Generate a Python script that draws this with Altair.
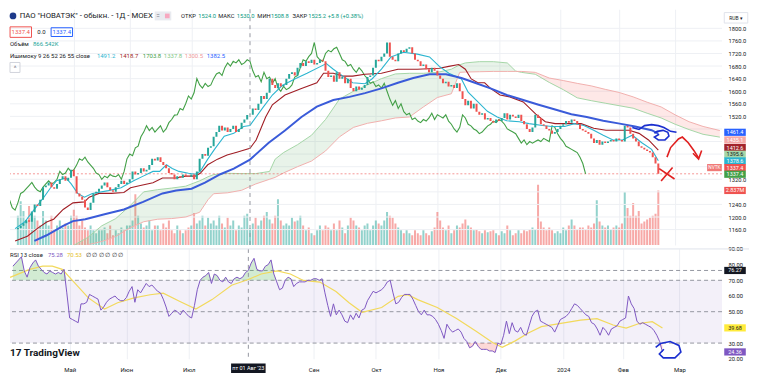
import altair as alt
import numpy as np
import pandas as pd

FONT = "Roboto"
INK = "#131722"
UP = "#26a69a"
DOWN = "#ef5350"

# ---------------- data ----------------
first_open = 1160.0
closes = [
    1165, 1172, 1180, 1190, 1185, 1215, 1240, 1235, 1255, 1295,
    1300, 1310, 1295, 1290, 1305, 1320, 1330, 1315, 1325, 1350,
    1330, 1275, 1265, 1255, 1230, 1222, 1245, 1275, 1280, 1290,
    1300, 1310, 1295, 1285, 1280, 1295, 1305, 1315, 1305, 1310,
    1320, 1345, 1335, 1340, 1355, 1345, 1350, 1365, 1385, 1380,
    1390, 1375, 1365, 1355, 1340, 1335, 1320, 1330, 1325, 1335,
    1330, 1328, 1335, 1320, 1345, 1385, 1400, 1395, 1420, 1425,
    1455, 1470, 1490, 1475, 1485, 1470, 1480, 1490, 1470, 1480,
    1500, 1510, 1524, 1525.2, 1545, 1540, 1560, 1585, 1575, 1595,
    1640, 1620, 1610, 1625, 1615, 1620, 1640, 1655, 1660, 1650,
    1675, 1690, 1680, 1695, 1690, 1700, 1685, 1690, 1700, 1695,
    1665, 1645, 1650, 1630, 1660, 1640, 1645, 1625, 1640, 1610,
    1600, 1615, 1605, 1610, 1620, 1645, 1650, 1675, 1700, 1695,
    1710, 1720, 1755, 1710, 1700, 1695, 1720, 1730, 1725, 1735,
    1740, 1720, 1700, 1695, 1680, 1685, 1670, 1660, 1675, 1665,
    1650, 1640, 1625, 1630, 1615, 1620, 1610, 1625, 1600, 1575,
    1555, 1570, 1545, 1560, 1535, 1525, 1530, 1510, 1515, 1505,
    1500, 1510, 1505, 1515, 1530, 1510, 1525, 1520, 1515, 1525,
    1505, 1495, 1480, 1470, 1485, 1525, 1515, 1495, 1490, 1480,
    1475, 1465, 1470, 1480, 1490, 1495, 1505, 1500, 1510, 1505,
    1495, 1480, 1475, 1470, 1465, 1450, 1435, 1445, 1430, 1440,
    1435, 1440, 1445, 1440, 1450, 1445, 1440, 1490, 1485, 1465,
    1450, 1440, 1425, 1420, 1415, 1410, 1405, 1390, 1370, 1337.4,
]
volumes_m = [
    1.52, 2.28, 1.77, 1.27, 2.03, 1.77, 1.52, 1.27, 1.01, 1.77,
    1.27, 1.01, 1.52, 0.76, 1.01, 1.27, 0.91, 1.12, 1.01, 1.52,
    1.83, 1.52, 1.01, 1.27, 0.91, 0.76, 1.01, 0.76, 0.61, 0.76,
    0.76, 0.91, 0.61, 1.01, 0.51, 0.76, 0.61, 0.91, 0.76, 1.01,
    1.01, 1.27, 2.64, 1.52, 1.12, 0.91, 1.01, 1.27, 0.76, 1.01,
    1.01, 0.76, 1.12, 0.91, 1.27, 0.76, 0.61, 1.01, 0.76, 0.61,
    0.76, 0.91, 1.01, 1.67, 1.12, 1.27, 1.52, 1.01, 1.42, 1.12,
    1.27, 1.01, 1.52, 1.12, 0.91, 1.42, 1.01, 1.27, 0.76, 1.01,
    0.91, 1.52, 1.62, 0.87, 1.12, 1.42, 1.01, 1.27, 1.52, 1.72,
    1.32, 1.12, 1.52, 2.38, 1.27, 1.01, 1.12, 1.01, 1.42, 1.22,
    1.27, 1.52, 1.01, 0.76, 0.91, 0.61, 0.51, 0.76, 1.01, 0.76,
    1.01, 0.91, 0.76, 1.12, 0.76, 1.27, 0.91, 0.61, 1.01, 1.42,
    1.27, 1.01, 0.91, 0.76, 1.01, 1.12, 0.76, 1.01, 1.27, 1.12,
    1.01, 1.27, 1.72, 1.52, 1.42, 1.12, 0.91, 0.76, 0.61, 0.76,
    0.61, 0.51, 0.76, 0.61, 0.51, 0.76, 0.61, 0.51, 0.71, 0.91,
    1.72, 1.27, 0.91, 0.76, 1.01, 0.61, 0.76, 1.01, 0.91, 1.12,
    1.32, 1.01, 0.91, 0.76, 0.81, 0.71, 0.61, 0.76, 0.66, 0.71,
    0.76, 0.61, 0.51, 0.71, 0.61, 1.01, 0.76, 0.51, 0.61, 0.76,
    0.61, 0.76, 0.71, 0.81, 0.91, 0.81, 3.14, 1.22, 0.91, 0.76,
    0.91, 0.76, 0.61, 0.71, 0.61, 0.91, 0.76, 1.01, 1.32, 1.01,
    0.81, 0.91, 0.91, 0.81, 1.01, 0.91, 1.12, 2.33, 1.22, 1.01,
    0.91, 1.01, 0.81, 0.91, 1.01, 0.91, 1.12, 2.74, 1.93, 1.52,
    2.18, 1.52, 1.77, 1.12, 1.22, 1.32, 1.42, 1.52, 1.62, 2.837,
]
rsi_values = [
    79, 81, 83, 85, 76, 72, 78, 81, 83, 79,
    77, 75, 74, 76, 75, 74, 75, 74, 77, 62,
    46, 45, 44, 43, 55, 55, 56, 61, 60, 59,
    58, 51, 53, 56, 58, 59, 60, 58, 57, 57,
    59, 63, 66, 56, 64, 62, 65, 68, 66, 67,
    65, 63, 62, 58, 53, 47, 49, 51, 50, 48,
    51, 49, 47, 46, 54, 64, 70, 72, 73, 75,
    68, 74, 73, 70, 69, 72, 69, 68, 71, 72,
    71, 72, 75, 76.3, 81, 84, 77, 76, 76, 79,
    80, 83, 74, 69, 64, 65, 70, 72, 71, 66,
    68, 69, 69, 69, 70, 70, 71, 71, 70, 71,
    62, 54, 47, 55, 48, 51, 48, 44, 43, 48,
    45, 49, 46, 51, 52, 57, 60, 63, 62, 63,
    64, 66, 69, 70, 62, 55, 56, 59, 61, 61,
    61, 58, 54, 50, 48, 51, 48, 48, 47, 45,
    42, 38, 33, 42, 39, 37, 38, 39, 37, 33,
    31, 27, 28, 31, 28, 26, 26, 26, 25, 25,
    24, 30, 29, 35, 44, 36, 43, 38, 37, 40,
    36, 35, 41, 47, 50, 51, 44, 43, 42, 41,
    40, 37, 41, 45, 46, 47, 49, 52, 55, 54,
    52, 50, 48, 47, 43, 42, 39, 35, 40, 38,
    35, 39, 40, 41, 44, 45, 46, 60, 55, 52,
    44, 42, 43, 42, 41, 40, 38, 35, 31, 24.36,
]
conversion_line = [
    (-1, 1163), (2.4, 1184), (5.9, 1224), (9.3, 1263), (11.7, 1293), (13.8, 1315),
    (17.2, 1324), (19, 1306), (21.4, 1275), (23.8, 1263), (26.6, 1275), (32.4, 1284),
    (36.9, 1293), (41.4, 1315), (44.8, 1330), (48.3, 1345), (50.7, 1345), (53.1, 1366),
    (55.2, 1354), (57.6, 1345), (61, 1339), (63.4, 1336), (65.2, 1345), (67.9, 1384),
    (70.3, 1415), (73.8, 1457), (77.2, 1466), (80.7, 1488), (83, 1491.2), (87.6, 1548),
    (91, 1588), (94.5, 1618), (99, 1639), (103.4, 1657), (108.3, 1679), (110.3, 1688),
    (112.8, 1670), (116.2, 1648), (119.7, 1627), (124.1, 1624), (126.6, 1639), (130, 1670),
    (133.4, 1709), (137.9, 1724), (142.8, 1718), (147.2, 1709), (150.7, 1679), (154.1, 1657),
    (158.6, 1639), (161, 1597), (164.5, 1566), (167.9, 1536), (171.4, 1518), (174.8, 1506),
    (179.3, 1503), (182.8, 1497), (187.6, 1491), (191, 1488), (195.5, 1488), (199, 1497),
    (202.4, 1491), (205.9, 1476), (209.3, 1460), (212.8, 1445), (216.2, 1445), (219.7, 1460),
    (223.1, 1436), (226.6, 1415), (229, 1378.6),
]
base_line = [
    (-1, 1124), (3.4, 1139), (6.9, 1163), (10.3, 1184), (12.8, 1193), (16.2, 1224),
    (19.7, 1245), (23.8, 1248), (25.5, 1263), (29, 1275), (33.4, 1275), (37.9, 1278),
    (40.3, 1293), (43.8, 1300), (48.3, 1309), (51.7, 1324), (56.6, 1324), (60, 1330),
    (63.4, 1330), (65.2, 1339), (67.9, 1366), (71.4, 1384), (74.8, 1397), (78.3, 1406),
    (83, 1418.7), (85.2, 1445), (88.6, 1518), (91, 1557), (95.5, 1588), (101.4, 1609),
    (106.9, 1627), (109.3, 1657), (112.8, 1657), (116.2, 1648), (119.7, 1648), (124.1, 1654),
    (130, 1657), (135.9, 1670), (142.8, 1670), (150.7, 1673), (154.1, 1679), (157.6, 1685),
    (160, 1670), (162.1, 1639), (164.5, 1627), (166.9, 1627), (169, 1609), (172.4, 1588),
    (175.9, 1582), (180.7, 1566), (185.2, 1527), (188.6, 1503), (192.1, 1497), (197.9, 1497),
    (201.4, 1497), (205.9, 1482), (210.3, 1476), (215.2, 1476), (218.6, 1476), (222.1, 1466),
    (225.5, 1445), (229, 1412.6),
]
ma55_line = [
    (5.9, 1124), (10.3, 1142), (16.2, 1172), (19.7, 1187), (24.1, 1193), (31, 1209),
    (37.9, 1224), (44.8, 1248), (51.7, 1275), (56.6, 1284), (62.1, 1290), (66.9, 1309),
    (72.4, 1336), (77.2, 1354), (83, 1382.5), (89.7, 1436), (95.5, 1475), (101.4, 1518),
    (106.9, 1551), (112.8, 1572), (118.6, 1582), (124.1, 1594), (130, 1609), (135.9, 1627),
    (141.4, 1642), (147.2, 1654), (153.1, 1654), (158.6, 1642), (163.4, 1627), (169, 1609),
    (174.8, 1588), (180.7, 1572), (186.2, 1557), (192.1, 1542), (197.9, 1527), (203.4, 1518),
    (209.3, 1506), (215.2, 1497), (220.7, 1488), (226.6, 1476), (229, 1465),
]
cloud_index = [20, 25, 30, 35, 40, 45, 50, 55, 60, 65, 68, 70, 75, 80, 85, 90, 92, 95, 100, 105,
               110, 115, 120, 125, 130, 135, 140, 145, 150, 155, 158, 160, 165, 170, 175, 178,
               180, 185, 190, 195, 200, 205, 210, 215, 220, 225, 230, 235, 240, 245, 251]
span_a = [1110, 1135, 1172, 1195, 1235, 1280, 1287, 1292, 1298, 1315, 1328, 1335, 1339, 1338,
          1338, 1345, 1384, 1405, 1430, 1460, 1510, 1575, 1600, 1620, 1640, 1655, 1657, 1657,
          1660, 1670, 1684, 1690, 1694, 1694, 1690, 1664, 1660, 1654, 1628, 1605, 1579, 1570,
          1562, 1554, 1546, 1530, 1515, 1495, 1478, 1463, 1454]
span_b = [1095, 1112, 1122, 1138, 1165, 1185, 1193, 1195, 1200, 1215, 1255, 1274, 1277, 1285,
          1305, 1320, 1326, 1340, 1360, 1378, 1410, 1455, 1485, 1498, 1506, 1515, 1518, 1550,
          1580, 1592, 1660, 1661, 1662, 1663, 1663, 1663, 1663, 1660, 1642, 1634, 1625, 1617,
          1606, 1596, 1582, 1565, 1550, 1525, 1503, 1488, 1475]
rsi_ma_line = [
    (-1, 71.9), (5.9, 77.0), (10.5, 79.0), (13.9, 79.0), (17.4, 77.0), (22, 67.9), (26.6, 58.8),
    (32.3, 51.7), (36.9, 55.7), (42.7, 58.8), (48.4, 60.8), (53, 61.8), (58.7, 56.7), (64.5, 51.7),
    (70.2, 57.7), (77.1, 66.9), (83, 70.53), (87.5, 74.0), (93.2, 76.0), (97.8, 74.0), (102.4, 69.9),
    (108.2, 68.9), (113.9, 62.8), (118.5, 55.7), (123.1, 49.6), (130, 52.7), (135.8, 59.8),
    (139.2, 60.8), (142.7, 57.7), (149.6, 52.7), (156.4, 45.6), (163.3, 37.5), (169.1, 30.4),
    (172.5, 27.3), (177.1, 31.4), (181.7, 36.4), (186.3, 40.5), (193.2, 42.5), (200.1, 44.6),
    (205.9, 45.6), (211.6, 41.5), (216.2, 39.5), (220.8, 42.5), (225.4, 43.6), (229, 39.68),
]
month_ticks = [20, 40, 62, 106, 128, 150, 172, 194, 215, 235]
month_labels = ["Май", "Июн", "Июл", "Сен", "Окт", "Ноя", "Дек", "2024", "Фев", "Мар"]
price_ticks = [1160, 1200, 1240, 1320, 1520, 1560, 1600, 1640, 1680, 1720, 1760, 1800]
grid_ticks = list(range(1160, 1801, 40))
rsi_ticks = [20, 30, 50, 60, 70, 80, 90]
crosshair_bar = 83
crosshair_rsi = 76.27
# right-edge value tags: text, position (price), background, text colour
price_tags = [
    ("1461.4", 1469.4, "#2962ff", "white"),
    ("1435.1", 1445.1, "#f4a9a8", "white"),
    ("1412.6", 1420.9, "#a3232b", "white"),
    ("1395.6", 1399.6, "#a5d6a7", INK),
    ("1378.6", 1378.4, "#2cb5d0", "white"),
    ("1337.4", 1357.2, "#ef5350", "white"),
    ("1337.4", 1336.0, "#43a047", "white"),
    ("2.837M", 1284.4, "#ef5350", "white"),
]
rsi_tags = [
    ("76.27", 76.27, INK, "white"),
    ("39.68", 39.68, "#ffeb3b", INK),
    ("24.36", 24.36, "#7e57c2", "white"),
]
# hand-drawn marks (bar index, price) / (bar index, RSI)
blue_squiggle = [(219.7, 1484.6), (222.1, 1478.5), (224.1, 1490.6), (226.6, 1493.7),
                 (229, 1490.6), (231, 1484.6), (233.4, 1472.4), (235.5, 1469.4)]
blue_loop = [(227.6, 1466.4), (228.6, 1472.4), (230.7, 1475.5), (232.4, 1469.4), (232.8, 1457.3),
             (231.4, 1445.1), (229.0, 1445.1), (227.6, 1454.2), (229.3, 1463.3)]
red_arrow = [(232.1, 1390.5), (233.4, 1420.8), (236.2, 1448.2), (237.6, 1454.2),
             (239.7, 1436), (241.7, 1411.8), (243.4, 1387.5)]
red_arrow_head = [(241.4, 1402.7), (243.4, 1384.5), (244.5, 1411.8)]
red_cross_1 = [(229.3, 1354.1), (234.8, 1320.8)]
red_cross_2 = [(230.0, 1314.7), (234.1, 1357.2)]
rsi_loop = [(226.6, 27.3), (228.3, 29.7), (231.7, 31.0), (234.8, 28.5), (235.5, 24.3),
            (233.4, 20.6), (229.3, 20.6), (227.9, 23.05), (229.5, 26.1)]

# ---------------- layout ----------------
W, H1, H2 = 713, 236, 110
TAG_X = 726
xs = alt.Scale(domain=[-1.03, 250.0], nice=False, zero=False)
ys = alt.Scale(domain=[1111.2, 1860.7], nice=False, zero=False)
vs = alt.Scale(domain=[0, 12.28], nice=False, zero=True)
rs = alt.Scale(domain=[20, 90], nice=False, zero=False)
GRID = "#eef0f4"
AX_FS = 5.8

lab_expr = ("[" + ",".join(f"'{m}'" for m in month_labels) + "][indexof(["
            + ",".join(str(t) for t in month_ticks) + "], datum.value)]")
ax_xm = alt.Axis(values=month_ticks, labels=False, ticks=False, domain=False, grid=True,
                 gridColor=GRID, title=None)
ax_xr = alt.Axis(values=month_ticks, labelExpr=lab_expr, labelFont=FONT, labelFontSize=6,
                 labelColor=INK, labelPadding=8, labelBaseline="top", labelOverlap=False,
                 labelFlush=False, ticks=False, domain=False, grid=True, gridColor=GRID, title=None)
ax_y = alt.Axis(orient="right", values=price_ticks, format=".1f", labelFont=FONT, labelFontSize=AX_FS,
                labelColor=INK, labelPadding=6, ticks=False, domain=False, grid=False,
                title=None, labelOverlap=False, labelFlush=False)
ax_r = alt.Axis(orient="right", values=rsi_ticks, format=".2f", labelFont=FONT, labelFontSize=AX_FS,
                labelColor=INK, labelPadding=6, ticks=False, domain=False, grid=False,
                title=None, labelOverlap=False, labelFlush=False)

cscale = alt.Scale(domain=["up", "down"], range=[UP, DOWN])
ONE = pd.DataFrame({"k": [0]})


def xq(field="i", axis=ax_xm):
    return alt.X(f"{field}:Q", scale=xs, axis=axis)


def yp(field):
    return alt.Y(f"{field}:Q", scale=ys, axis=ax_y)


def yr(field):
    return alt.Y(f"{field}:Q", scale=rs, axis=ax_r)


def pairs(lst, col):
    d = pd.DataFrame(lst, columns=["i", col])
    d["k"] = range(len(d))
    return d


def txt(t, x, y, color=INK, size=6, align="left", weight="normal"):
    return alt.Chart(ONE).mark_text(align=align, baseline="middle", fontSize=size, fontWeight=weight,
                                    font=FONT, color=color).encode(
        x=alt.value(x), y=alt.value(y), text=alt.value(t))


def box(x, y, shape, size, fill=None, stroke=None):
    if fill:
        m = alt.Chart(ONE).mark_point(shape=shape, size=size, filled=True, color=fill, opacity=1,
                                      strokeWidth=0)
    else:
        m = alt.Chart(ONE).mark_point(shape=shape, size=size, filled=False, color=stroke, opacity=1,
                                      strokeWidth=1)
    return m.encode(x=alt.value(x), y=alt.value(y))


TAG = "M-1.5,-0.5H1.5V0.5H-1.5Z"

n = len(closes)
bars = pd.DataFrame({"i": np.arange(n), "open": [first_open] + closes[:-1], "close": closes,
                     "vol": volumes_m, "rsi": rsi_values})
bars["dir"] = np.where(bars["close"] >= bars["open"], "up", "down")
bars["lag_i"] = bars["i"] - 26

cloud = pd.DataFrame({"i": cloud_index, "a": span_a, "b": span_b})
cloud_green = cloud[cloud["i"] <= 178]
cloud_red = cloud[cloud["i"] >= 178]

# ---------------- main pane ----------------
vol = alt.Chart(bars).mark_bar(size=2, opacity=0.5, clip=True).encode(
    x=xq(), y=alt.Y("vol:Q", scale=vs, axis=None),
    color=alt.Color("dir:N", scale=cscale, legend=None))

layers = [
    alt.Chart(pd.DataFrame({"g": grid_ticks})).mark_rule(color=GRID, strokeWidth=1).encode(y=yp("g")),
    alt.Chart(cloud_green).mark_area(color="#43a047", opacity=0.12, clip=True).encode(
        x=xq(), y=yp("a"), y2="b:Q"),
    alt.Chart(cloud_red).mark_area(color="#f44336", opacity=0.12, clip=True).encode(
        x=xq(), y=yp("a"), y2="b:Q"),
    alt.Chart(cloud).mark_line(color="#a5d6a7", strokeWidth=1, clip=True).encode(x=xq(), y=yp("a")),
    alt.Chart(cloud).mark_line(color="#f1b0ae", strokeWidth=1, clip=True).encode(x=xq(), y=yp("b")),
    alt.Chart(pd.DataFrame({"p": [closes[-1]]})).mark_rule(
        color=DOWN, strokeDash=[2, 2], opacity=0.6).encode(y=yp("p")),
    alt.Chart(bars).mark_line(color="#43a047", strokeWidth=1.1, clip=True).encode(
        x=xq("lag_i"), y=yp("close")),
    alt.Chart(pairs(base_line, "p")).mark_line(color="#a01e25", strokeWidth=1.1, clip=True).encode(
        x=xq(), y=yp("p"), order="k:Q"),
    alt.Chart(pairs(conversion_line, "p")).mark_line(color="#2cb5d0", strokeWidth=1.1, clip=True).encode(
        x=xq(), y=yp("p"), order="k:Q"),
    alt.Chart(pairs(ma55_line, "p")).mark_line(color="#3a5bd9", strokeWidth=2, clip=True).encode(
        x=xq(), y=yp("p"), order="k:Q"),
    alt.Chart(bars).mark_bar(size=2, clip=True).encode(
        x=xq(), y=yp("open"), y2="close:Q",
        color=alt.Color("dir:N", scale=cscale, legend=None)),
    alt.Chart(pd.DataFrame({"i": [crosshair_bar]})).mark_rule(
        color="#9598a1", strokeDash=[4, 4], strokeWidth=1).encode(x=xq()),
]
for pts, colr in [(blue_squiggle, "#1b2fcf"), (blue_loop, "#1b2fcf"), (red_arrow, "#e02020"),
                  (red_arrow_head, "#e02020"), (red_cross_1, "#e02020"), (red_cross_2, "#e02020")]:
    layers.append(alt.Chart(pairs(pts, "p")).mark_line(color=colr, strokeWidth=1.6).encode(
        x=xq(), y=yp("p"), order="k:Q"))
for t, pos, bg, fg in price_tags:
    d = pd.DataFrame({"pos": [pos]})
    layers.append(alt.Chart(d).mark_point(shape=TAG, size=207, filled=True, color=bg, opacity=1,
                                          strokeWidth=0).encode(x=alt.value(TAG_X), y=yp("pos")))
    layers.append(alt.Chart(d).mark_text(font=FONT, fontSize=5.5, color=fg, align="center",
                                         baseline="middle").encode(
        x=alt.value(TAG_X), y=yp("pos"), text=alt.value(t)))
nv = pd.DataFrame({"pos": [1357.2]})
layers.append(alt.Chart(nv).mark_point(shape="M-1,-0.49H1V0.49H-1Z", size=216, filled=True,
                                       color="#f07a77", opacity=1, strokeWidth=0).encode(
    x=alt.value(705.4), y=yp("pos")))
layers.append(alt.Chart(nv).mark_text(font=FONT, fontSize=4.8, color="white", align="center",
                                      baseline="middle").encode(
    x=alt.value(705.4), y=yp("pos"), text=alt.value("NVTK")))
price_group = alt.layer(*layers)

header = [
    box(3, 6.7, "circle", 45, fill="#1e3a8a"),
    txt('ПАО "НОВАТЭК" - обыкн. - 1Д - MOEX', 9.8, 6.7, size=7.8),
    box(153.2, 6.7, "M-1,-0.54H1V0.54H-1Z", 276, fill="#e9ebf0"),
    txt("=", 146.5, 6.4, color="#787b86", size=6.5),
    box(157.5, 6.7, "square", 22, fill="#f7a8c0"),
    txt("ОТКР", 171.3, 6.7, size=5.8), txt("1524.0", 188.5, 6.7, color="#089981", size=5.8),
    txt("МАКС", 208.5, 6.7, size=5.8), txt("1530.0", 227.1, 6.7, color="#089981", size=5.8),
    txt("МИН", 247.7, 6.7, size=5.8), txt("1508.8", 261.4, 6.7, color="#089981", size=5.8),
    txt("ЗАКР", 283, 6.7, size=5.8), txt("1525.2", 298.6, 6.7, color="#089981", size=5.8),
    txt("+5.8 (+0.38%)", 318.2, 6.7, color="#089981", size=5.8),
    box(10.8, 22.9, "M-1,-0.49H1V0.49H-1Z", 462, stroke="#ef5350"),
    txt("1337.4", 10.8, 22.9, color="#ef5350", align="center"),
    txt("0.0", 27.4, 22.9),
    box(51.9, 22.9, "M-1.2,-0.49H1.2V0.49H-1.2Z", 320, stroke="#2962ff"),
    txt("1337.4", 51.9, 22.9, color="#2962ff", align="center"),
    txt("Объём", 0, 35.3), txt("866.542K", 23, 35.3, color=UP),
    txt("Ишимоку 9 26 52 26 55 close", 0, 46.8),
    txt("1491.2", 87, 46.8, color="#2cb5d0"), txt("1418.7", 110, 46.8, color="#a01e25"),
    txt("1703.8", 133, 46.8, color="#43a047"), txt("1337.8", 154, 46.8, color="#81c784"),
    txt("1300.5", 175, 46.8, color="#ef9a9a"), txt("1382.5", 197, 46.8, color="#2962ff"),
    box(5, 58.3, "M-1,-1H1V1H-1Z", 100, stroke="#d1d4dc"),
    txt("^", 5, 59.5, color="#787b86", align="center", size=6.5),
    box(TAG_X + 1, 8.6, "M-1.12,-0.5H1.12V0.5H-1.12Z", 441, stroke="#e0e3eb"),
    txt("RUB ▾", TAG_X + 1, 8.6, color=INK, align="center", size=5),
]
main = alt.layer(vol, price_group, *header).resolve_scale(y="independent").properties(
    width=W, height=H1)

# ---------------- RSI pane ----------------
rl = [
    alt.Chart(pd.DataFrame({"lo": [30], "hi": [70]})).mark_rect(color="#7e57c2", opacity=0.09).encode(
        y=yr("lo"), y2="hi:Q"),
    alt.Chart(pd.DataFrame({"v": [70, 50, 30, crosshair_rsi]})).mark_rule(
        color="#9598a1", strokeDash=[4, 3], strokeWidth=1).encode(y=yr("v")),
    alt.Chart(bars).transform_calculate(top="max(datum.rsi, 70)", lim="70").mark_area(
        color="#4caf50", opacity=0.25, clip=True).encode(x=xq("i", ax_xr), y=yr("top"), y2="lim:Q"),
    alt.Chart(bars).transform_calculate(bot="min(datum.rsi, 30)", lim="30").mark_area(
        color="#f44336", opacity=0.2, clip=True).encode(x=xq("i", ax_xr), y=yr("bot"), y2="lim:Q"),
    alt.Chart(pairs(rsi_ma_line, "v")).mark_line(color="#f2d95c", strokeWidth=1.2, clip=True).encode(
        x=xq("i", ax_xr), y=yr("v"), order="k:Q"),
    alt.Chart(bars).mark_line(color="#7e57c2", strokeWidth=1, clip=True).encode(
        x=xq("i", ax_xr), y=yr("rsi")),
    alt.Chart(pd.DataFrame({"i": [crosshair_bar]})).mark_rule(
        color="#9598a1", strokeDash=[4, 4], strokeWidth=1).encode(x=xq("i", ax_xr)),
    alt.Chart(pairs(rsi_loop, "v")).mark_line(color="#1b2fcf", strokeWidth=1.6).encode(
        x=xq("i", ax_xr), y=yr("v"), order="k:Q"),
]
for t, pos, bg, fg in rsi_tags:
    d = pd.DataFrame({"pos": [pos]})
    rl.append(alt.Chart(d).mark_point(shape=TAG, size=207, filled=True, color=bg, opacity=1,
                                      strokeWidth=0).encode(x=alt.value(TAG_X), y=yr("pos")))
    rl.append(alt.Chart(d).mark_text(font=FONT, fontSize=5.5, color=fg, align="center",
                                     baseline="middle").encode(
        x=alt.value(TAG_X), y=yr("pos"), text=alt.value(t)))
date_df = pd.DataFrame({"i": [crosshair_bar]})
rl.append(alt.Chart(date_df).mark_point(shape="M-1.8,-0.5H1.8V0.5H-1.8Z", size=369, filled=True,
                                        color=INK, opacity=1, strokeWidth=0).encode(
    x=xq("i", ax_xr), y=alt.value(119.5)))
rl.append(alt.Chart(date_df).mark_text(font=FONT, fontSize=5.5, color="white", align="center",
                                       baseline="middle").encode(
    x=xq("i", ax_xr), y=alt.value(119.5), text=alt.value("пт 01 Авг '23")))
rl += [
    alt.Chart(ONE).mark_rule(color="#e0e3eb").encode(x=alt.value(0), x2=alt.value(740), y=alt.value(0)),
    txt("RSI 13 close", 0, 5.7), txt("75.28", 38, 5.7, color="#7e57c2"),
    txt("70.53", 57, 5.7, color="#e6c229"), txt("∅ ∅ ∅ ∅ ∅ ∅", 76, 5.7, color=INK),
    txt("17", 0, 104.5, size=10, weight="bold"),
    txt("TradingView", 13.7, 104.5, size=10, weight="bold"),
]
rsi_panel = alt.layer(*rl).properties(width=W, height=H2)

chart = alt.vconcat(main, rsi_panel, spacing=0).configure_view(stroke=None).properties(
    padding={"left": 0, "top": 0, "right": 0, "bottom": 0}, background="white")

chart.save("out.html", embed_options={"renderer": "svg", "actions": False})
